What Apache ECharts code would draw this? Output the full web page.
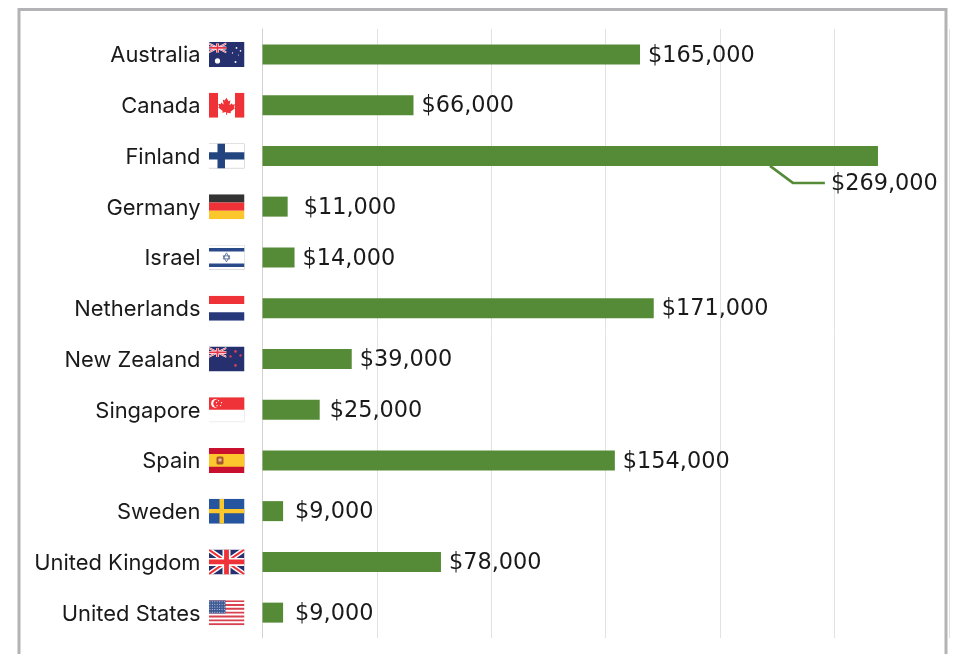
<!DOCTYPE html>
<html>
<head>
<meta charset="UTF-8" />
<title></title>
<script src="https://cdn.jsdelivr.net/npm/echarts@6/dist/echarts.min.js"></script>
<style type="text/css">
html,body{margin:0;padding:0;background:#fff;overflow:hidden;}
#main{width:953px;height:654px;}
</style>
</head>
<body>
<div id="main"></div>
<script type="text/javascript">
var countries = ['Australia','Canada','Finland','Germany','Israel','Netherlands','New Zealand','Singapore','Spain','Sweden','United Kingdom','United States'];
var flagKeys = ['au','ca','fi','de','il','nl','nz','sg','es','se','gb','us'];
var amounts = [165000,66000,269000,11000,14000,171000,39000,25000,154000,9000,78000,9000];
// Finland's label is pulled under the bar, these are the leader line's x values
var leaderValues = [221800,231800,245800];

// union jack corner shared by au / nz
function jack(w,h){
  return '<svg x="0" y="0" width="'+w+'" height="'+h+'" viewBox="0 0 60 30">'
    +'<rect width="60" height="30" fill="#27306e"/>'
    +'<path d="M0 0L60 30M60 0L0 30" stroke="#fff" stroke-width="6"/>'
    +'<path d="M0 0L60 30M60 0L0 30" stroke="#e8354a" stroke-width="2.5"/>'
    +'<path d="M30 0V30M0 15H60" stroke="#fff" stroke-width="10"/>'
    +'<path d="M30 0V30M0 15H60" stroke="#e8354a" stroke-width="6"/></svg>';
}
function stars(list,color){
  var s='';
  list.forEach(function(p){ s+='<circle cx="'+p[0]+'" cy="'+p[1]+'" r="'+p[2]+'" fill="'+color+'"/>'; });
  return s;
}
function usStripes(){
  var s='<rect width="36" height="25" fill="#fff"/>';
  for(var i=0;i<7;i++){ s+='<rect y="'+(i*3.85)+'" width="36" height="1.92" fill="#d9404f"/>'; }
  s+='<rect width="17" height="13.4" fill="#3d5a94"/>';
  for(var r=0;r<5;r++){ for(var c=0;c<7;c++){ s+='<circle cx="'+(1.5+c*2.4)+'" cy="'+(1.6+r*2.6)+'" r=".5" fill="#dfe6f2"/>'; } }
  return s;
}
var flagSvg = {
  au:'<rect width="36" height="25" fill="#27306e"/>'+jack(18,12)+stars([[9,19,2.6],[28,6,.9],[32,9,.8],[24,11,.7],[27,20,1],[30,13,.5]],'#fff'),
  ca:'<rect width="36" height="25" fill="#fff"/><rect width="9.5" height="25" fill="#ee3237"/><rect x="26.5" width="9.5" height="25" fill="#ee3237"/><path d="M18 5l2 3.5 2-1-1 5 2.5-2 .6 1.6 2.4-.4-1 3 1 .8-4.5 3.5.5 1.6-3.9-.6V22h-1v-2.600l-3.900.6.5-1.600-4.500-3.500 1-.8-1-3 2.400.4.6-1.600 2.500 2-1-5 2 1z" fill="#ee3237"/>',
  fi:'<rect width="36" height="25" fill="#fff" stroke="#bbb"/><rect x="9" width="7.500" height="25" fill="#23457f"/><rect y="8.800" width="36" height="7.400" fill="#23457f"/>',
  de:'<rect width="36" height="8.400" fill="#333"/><rect y="8.400" width="36" height="8.300" fill="#ee3237"/><rect y="16.700" width="36" height="8.300" fill="#fcc62d"/>',
  il:'<rect width="36" height="25" fill="#fff" stroke="#ccc"/><rect y="3" width="36" height="3.500" fill="#2b4a8a"/><rect y="18.500" width="36" height="3.500" fill="#2b4a8a"/><path d="M18 8l3.400 6h-6.800zM18 17l-3.400-6h6.800z" fill="none" stroke="#5a6f96" stroke-width=".9"/>',
  nl:'<rect width="36" height="8.400" fill="#ee3237"/><rect y="8.400" width="36" height="8.300" fill="#fff"/><rect y="16.700" width="36" height="8.300" fill="#27397a"/>',
  nz:'<rect width="36" height="25" fill="#27306e"/>'+jack(18,12)+stars([[27,5,1.300],[22,10,1.200],[32,9,1.200],[27,19,1.300]],'#d9405a'),
  sg:'<rect width="36" height="25" fill="#fff" stroke="#ddd"/><rect width="36" height="12.500" fill="#ee3237"/><circle cx="7" cy="6.300" r="4.400" fill="#fff"/><circle cx="9" cy="6.300" r="4.200" fill="#ee3237"/>'+stars([[10,3.500,.7],[13,5.500,.7],[12,8.500,.7],[8.500,8.500,.7],[8,5.500,.7]],'#fff'),
  es:'<rect width="36" height="25" fill="#c8102e"/><rect y="6.200" width="36" height="12.600" fill="#fcc62d"/><rect x="8" y="8.500" width="7" height="8" rx="1.500" fill="#a8562a"/><rect x="10" y="10.500" width="3" height="3" fill="#e8b9a0"/>',
  se:'<rect width="36" height="25" fill="#26559f"/><rect x="11" width="4.500" height="25" fill="#fcc62d"/><rect y="10.300" width="36" height="4.400" fill="#fcc62d"/>',
  gb:'<rect width="36" height="25" fill="#27306e"/><path d="M0 0L36 25M36 0L0 25" stroke="#fff" stroke-width="5"/><path d="M0 0L36 25M36 0L0 25" stroke="#ee3237" stroke-width="2"/><path d="M18 0V25M0 12.500H36" stroke="#fff" stroke-width="8"/><path d="M18 0V25M0 12.500H36" stroke="#ee3237" stroke-width="4.800"/>',
  us:usStripes()
};

var richStyles = {
  name:{fontFamily:'Inter',fontSize:21.9,color:'#1a1a1a',padding:[3,8,0,0]}
};
flagKeys.forEach(function(k){
  var svg = '<svg xmlns="http://www.w3.org/2000/svg" width="36" height="25" viewBox="0 0 36 25">'+flagSvg[k]+'</svg>';
  richStyles[k] = {width:36,height:25,backgroundColor:{image:'data:image/svg+xml;charset=utf-8,'+encodeURIComponent(svg)}};
});

var myChart = echarts.init(document.getElementById('main'));
myChart.setOption({
  animation:false,
  backgroundColor:'#fff',
  grid:{left:262.5,top:29,width:686.4,height:609,containLabel:false},
  graphic:[{
    type:'rect',
    z:-1,
    shape:{x:19,y:9.500,width:927,height:700},
    style:{fill:'#fff',stroke:'#b3b3b6',lineWidth:3}
  }],
  xAxis:{
    type:'value',
    min:0,
    max:300000,
    interval:50000,
    axisLine:{show:false},
    axisTick:{show:false},
    axisLabel:{show:false},
    splitLine:{lineStyle:{color:'#e2e2e2',width:1}}
  },
  yAxis:{
    type:'category',
    inverse:true,
    data:countries,
    axisLine:{lineStyle:{color:'#d2d2d2',width:1}},
    axisTick:{show:false},
    axisLabel:{
      margin:18,
      formatter:function(val,i){ return '{name|'+val+'}{'+flagKeys[i]+'|}'; },
      rich:richStyles
    }
  },
  series:[{
    type:'bar',
    data:amounts,
    barWidth:20,
    itemStyle:{color:'#558b37'},
    label:{
      show:true,
      position:'right',
      distance:8,
      fontFamily:'DejaVu Sans',
      fontSize:22.4,
      color:'#1a1a1a',
      formatter:function(p){ return '$'+p.value.toLocaleString('en-US'); }
    },
    labelLayout:function(p){
      var c = countries[p.dataIndex];
      if(c=='Finland') return {dx:-55,dy:28.5};
      if(c=='Germany') return {dx:8,dy:1.5};
      if(c=='Singapore') return {dx:2,dy:1.5};
      if(c=='Sweden'||c=='United States') return {dx:4,dy:1.5};
      return {dy:1.5};
    }
  },{
    type:'custom',
    clip:false,
    silent:true,
    data:[['Finland'].concat(leaderValues)],
    encode:{y:0,x:[1,2,3]},
    renderItem:function(params,api){
      var a = api.coord([api.value(1),2]);
      var b = api.coord([api.value(2),2]);
      var c = api.coord([api.value(3),2]);
      return {
        type:'polyline',
        shape:{points:[[a[0],a[1]+10],[b[0],b[1]+27],[c[0],c[1]+27]]},
        style:{fill:'none',stroke:'#558b37',lineWidth:2.5}
      };
    }
  }]
});
</script>
</body>
</html>
